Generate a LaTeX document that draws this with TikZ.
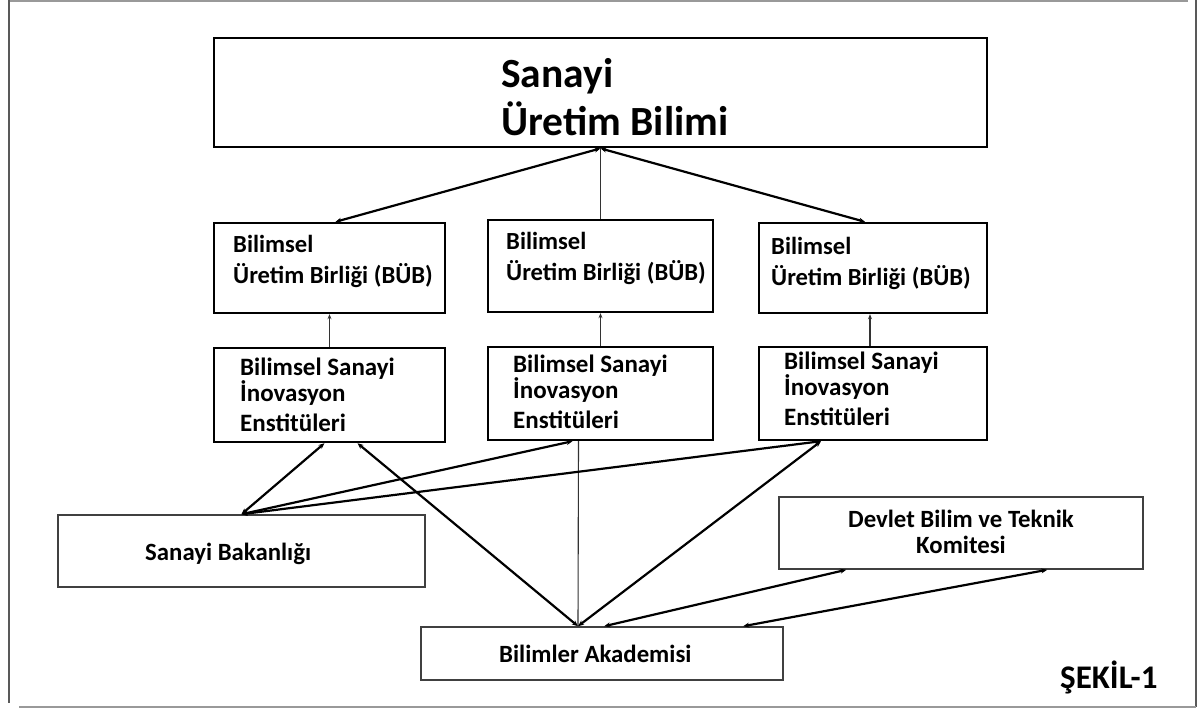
\documentclass[tikz,border=0pt]{standalone}
\usepackage{fontspec}
\setmainfont{Carlito}
\usetikzlibrary{arrows.meta,calc}
\begin{document}
\begin{tikzpicture}[x=1pt,y=-1pt,
  bigbox/.style={draw=black, line width=2.8pt, inner sep=0pt},
  midbox/.style={draw=black, line width=2.4pt, inner sep=0pt},
  lowbox/.style={draw=black!75, line width=1.6pt, inner sep=0pt},
  lbl/.style={anchor=base west, align=left, inner sep=0pt, font=\bfseries\fontsize{24.6}{31}\selectfont},
  inlbl/.style={anchor=base west, align=left, inner sep=0pt, font=\bfseries\fontsize{25}{22}\selectfont},
  lowlbl/.style={anchor=base west, inner sep=0pt, font=\bfseries\fontsize{24.8}{28}\selectfont},
  conn/.style={line width=2.2pt, {Stealth[length=6pt,width=5pt]}-{Stealth[length=6pt,width=5pt]}},
  thinconn/.style={line width=1.1pt, draw=black!80},
  thinarrow/.style={line width=1.1pt, draw=black!80, -{Stealth[length=5pt,width=4pt]}},
  framel/.style={line width=2.4pt, draw=black!65},
  framet/.style={line width=1.6pt, draw=black!40}
]
\useasboundingbox (0,0) rectangle (1203,710);
% outer frame
\draw[framet] (9,1) -- (1188,1);
\draw[framel] (9,0) -- (9,703);
\draw[framel] (1196,0) -- (1196,707);
\draw[framet] (19,707) -- (1196,707);

% boxes
\node[bigbox, minimum width=773pt, minimum height=109pt] (top) at (600.5,92.5) {};
\node[midbox, minimum width=231pt, minimum height=90pt] (b1) at (329.5,268) {};
\node[midbox, minimum width=225pt, minimum height=92pt] (b2) at (600.5,266) {};
\node[midbox, minimum width=228pt, minimum height=90pt] (b3) at (873,268) {};
\node[midbox, minimum width=231pt, minimum height=94pt] (i1) at (329.5,395) {};
\node[midbox, minimum width=225pt, minimum height=93pt] (i2) at (600.5,393.5) {};
\node[midbox, minimum width=228pt, minimum height=93pt] (i3) at (873,393.5) {};
\node[lowbox, minimum width=367pt, minimum height=72pt] (sb) at (241.5,551) {};
\node[lowbox, minimum width=364pt, minimum height=72pt] (dv) at (961,533) {};
\node[lowbox, minimum width=362pt, minimum height=53pt] (ba) at (602,653.5) {};

% texts (anchor = baseline of the last line)
\node[lbl, font=\bfseries\fontsize{41.5}{48}\selectfont] (topt) at (501,135) {Sanayi\\Üretim Bilimi};
\node[lbl] (b1t) at (233,283) {Bilimsel\\Üretim Birliği (BÜB)};
\node[lbl] (b2t) at (506,280) {Bilimsel\\Üretim Birliği (BÜB)};
\node[lbl] (b3t) at (771,285) {Bilimsel\\Üretim Birliği (BÜB)};
\node[inlbl] (i1t) at (240,431) {Bilimsel Sanayi\\İnovasyon\\[8pt]Enstitüleri};
\node[inlbl] (i2t) at (513,428) {Bilimsel Sanayi\\İnovasyon\\[8pt]Enstitüleri};
\node[inlbl] (i3t) at (784,425) {Bilimsel Sanayi\\İnovasyon\\[8pt]Enstitüleri};
\node[lowlbl] (sbt) at (145,560) {Sanayi Bakanlığı};
\node[anchor=base, align=center, inner sep=0pt, font=\bfseries\fontsize{24.8}{26}\selectfont] (dvt) at (961,553) {Devlet Bilim ve Teknik\\Komitesi};
\node[lowlbl] (bat) at (499,662) {Bilimler Akademisi};
\node[lowlbl, font=\bfseries\fontsize{33}{36}\selectfont] (sekil) at (1060,688) {ŞEKİL-1};

% attachment points
\coordinate (baA) at ($(ba.north)+(-24,0)$);

% connectors: top level
\draw[conn] (top.south) -- ($(b1.north)+(6,0)$);
\draw[thinconn] (top.south) -- (b2.north);
\draw[conn] (top.south) -- ($(b3.north)+(-8,0)$);
% institutes to BÜB
\draw[thinarrow] (i1.north) -- (b1.south);
\draw[thinarrow] (i2.north) -- (b2.south);
\draw[thinarrow] ($(i3.north)+(-3,0)$) -- ($(b3.south)+(-3,0)$);
% institutes to ministry and academy
\draw[conn] ($(i1.south)+(-5,0)$) -- (sb.north);
\draw[conn] ($(i1.south)+(28,0)$) -- (baA);
\draw[conn] ($(i2.south)+(-28,0)$) -- (sb.north);
\draw[thinconn] ($(i2.south)+(-22,0)$) -- (baA);
\draw[conn] ($(i3.south)+(-52,0)$) -- (sb.north);
\draw[conn] ($(i3.south)+(-52,0)$) -- (baA);
% committee to academy
\draw[conn] ($(dv.south west)+(68,0)$) -- ($(ba.north west)+(184,0)$);
\draw[conn] ($(dv.south west)+(269,0)$) -- ($(ba.north west)+(323,0)$);
\end{tikzpicture}
\end{document}
